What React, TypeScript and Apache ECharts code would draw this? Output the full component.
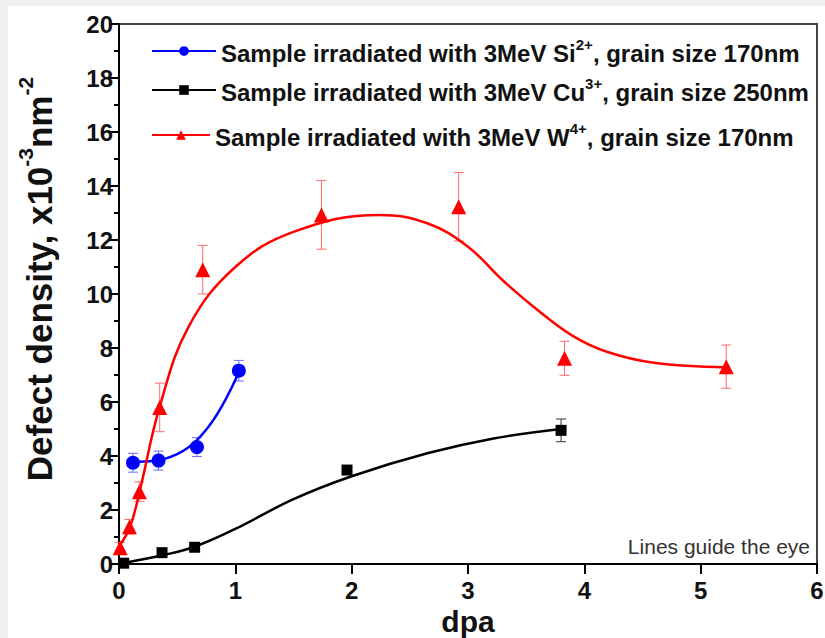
import React, { useEffect, useRef } from "react";
import * as echarts from "echarts";

const siName = "Sample irradiated with 3MeV Si2+, grain size 170nm";
const cuName = "Sample irradiated with 3MeV Cu3+, grain size 250nm";
const wName = "Sample irradiated with 3MeV W4+, grain size 170nm";

// measured points (dpa, density, error)
const siX = [0.12, 0.34, 0.67, 1.03];
const siY = [3.75, 3.83, 4.33, 7.16];
const siErr = [0.35, 0.35, 0.35, 0.38];

const cuX = [0.04, 0.37, 0.65, 1.96, 3.8];
const cuY = [0.03, 0.42, 0.62, 3.48, 4.95];
const cuErr = [0.05, 0.08, 0.08, 0.12, 0.42];

const wX = [0.01, 0.09, 0.175, 0.35, 0.72, 1.74, 2.92, 3.83, 5.22];
const wY = [0.6, 1.38, 2.68, 5.8, 10.9, 12.93, 13.23, 7.62, 7.31];
const wErr = [0.2, 0.27, 0.36, 0.9, 0.9, 1.27, 1.27, 0.63, 0.8];

// guide-the-eye curves
const siCurveX = [0.12, 0.3, 0.5, 0.67, 0.84, 1.02];
const siCurveY = [3.78, 3.82, 4.07, 4.59, 5.52, 7.0];

const cuCurveX = [0.02, 0.38, 0.65, 1.0, 1.5, 2.0, 2.65, 3.22, 3.8];
const cuCurveY = [0.02, 0.33, 0.64, 1.3, 2.4, 3.25, 4.1, 4.65, 5.0];

const wCurveX = [0.0, 0.095, 0.18, 0.35, 0.6, 1.0, 1.5, 2.24, 2.65, 3.0, 3.3, 3.6, 3.9, 4.2, 4.6, 5.22];
const wCurveY = [0.65, 1.38, 2.74, 5.83, 8.8, 11.0, 12.3, 12.93, 12.62, 11.75, 10.5, 9.4, 8.45, 7.85, 7.45, 7.28];

const xTicks = [0, 1, 2, 3, 4, 5, 6];
const yTicks = [0, 2, 4, 6, 8, 10, 12, 14, 16, 18, 20];

const BLUE = "#0000ff";
const RED = "#ff0000";
const BLACK = "#000000";
const FONT = "Liberation Sans";

const zip2 = (a: number[], b: number[]) => a.map((v, i) => [v, b[i]]);
const zip3 = (a: number[], b: number[], c: number[]) => a.map((v, i) => [v, b[i], c[i]]);

function errSeries(name: string, data: number[][], color: string) {
  return {
    type: "custom",
    name,
    data,
    encode: { x: 0, y: 1 },
    z: 1,
    renderItem: (_p: any, api: any) => {
      const x = api.value(0);
      const y = api.value(1);
      const e = api.value(2);
      const lo = api.coord([x, y - e]);
      const hi = api.coord([x, y + e]);
      const w = 5;
      const style = { stroke: color, lineWidth: 1 };
      return {
        type: "group",
        children: [
          { type: "line", shape: { x1: lo[0], y1: lo[1], x2: hi[0], y2: hi[1] }, style },
          { type: "line", shape: { x1: lo[0] - w, y1: lo[1], x2: lo[0] + w, y2: lo[1] }, style },
          { type: "line", shape: { x1: hi[0] - w, y1: hi[1], x2: hi[0] + w, y2: hi[1] }, style },
        ],
      };
    },
  };
}

const legendRich = {
  t: { fontFamily: FONT, fontWeight: "bold", fontSize: 24, color: "#111", lineHeight: 28, verticalAlign: "bottom" },
  s: { fontFamily: FONT, fontWeight: "bold", fontSize: 15, color: "#111", lineHeight: 28, verticalAlign: "top" },
};

const legendFmt = (name: string) => {
  const m = name.match(/^(.*3MeV [A-Za-z]+)(\d\+)(, .*)$/);
  if (!m) return name;
  return `{t|${m[1]}}{s|${m[2]}}{t|${m[3]}}`;
};

function mkLegend(name: string, top: number, itemWidth: number) {
  return {
    data: [name],
    left: 146,
    top,
    orient: "vertical",
    itemWidth,
    itemHeight: 12,
    itemGap: 4,
    formatter: legendFmt,
    textStyle: { rich: legendRich },
    selectedMode: false,
  };
}

export default function App() {
  const ref = useRef<HTMLDivElement>(null);
  useEffect(() => {
    document.body.style.margin = "0";
    const chart = echarts.init(ref.current!, undefined, { renderer: "svg" });
    const option: any = {
      animation: false,
      backgroundColor: "#efefef",
      graphic: [
        { type: "rect", left: 8, top: 6, z: -100, shape: { width: 817, height: 632 }, style: { fill: "#ffffff" }, silent: true },
        {
          type: "text",
          right: 15,
          top: 536,
          z: 100,
          style: { text: "Lines guide the eye", fontFamily: FONT, fontSize: 21, fill: "#333", textAlign: "right" },
        },
      ],
      grid: {
        left: 119, right: 8, top: 24, bottom: 74,
        outerBoundsMode: "none", containLabel: false,
        show: true, borderColor: "#444", borderWidth: 2, backgroundColor: "#fff",
      },
      legend: [mkLegend(siName, 32, 64), mkLegend(cuName, 71, 64), mkLegend(wName, 116, 58)],
      xAxis: {
        type: "value",
        min: xTicks[0],
        max: xTicks[xTicks.length - 1],
        interval: 1,
        name: "dpa",
        nameLocation: "middle",
        nameGap: 27,
        nameTextStyle: { fontFamily: FONT, fontWeight: "bold", fontSize: 30, lineHeight: 30, color: "#111" },
        axisLine: { lineStyle: { color: "#000", width: 2 } },
        axisTick: { length: 10, lineStyle: { color: "#000", width: 2 } },
        axisLabel: { fontFamily: FONT, fontWeight: "bold", fontSize: 24, color: "#111", margin: 14 },
        splitLine: { show: false },
      },
      yAxis: {
        type: "value",
        min: yTicks[0],
        max: yTicks[yTicks.length - 1],
        interval: 2,
        name: "{t|Defect density, x10}{s|-3}{t|nm}{s|-2}",
        nameLocation: "middle",
        nameGap: 62,
        nameTextStyle: {
          padding: [0, 0, 0, 30],
          rich: {
            t: { fontFamily: FONT, fontWeight: "bold", fontSize: 35, color: "#111", lineHeight: 42, verticalAlign: "bottom" },
            s: { fontFamily: FONT, fontWeight: "bold", fontSize: 21, color: "#111", lineHeight: 42, verticalAlign: "top" },
          },
        },
        axisLine: { lineStyle: { color: "#000", width: 2 } },
        axisTick: { length: 10, lineStyle: { color: "#000", width: 2 } },
        minorTick: { show: true, splitNumber: 2, length: 5, lineStyle: { color: "#000", width: 2 } },
        axisLabel: { fontFamily: FONT, fontWeight: "bold", fontSize: 24, color: "#111", margin: 6 },
        splitLine: { show: false },
      },
      series: [
        errSeries("Si err", zip3(siX, siY, siErr), "#6a6aff"),
        errSeries("Cu err", zip3(cuX, cuY, cuErr), "#333"),
        errSeries("W err", zip3(wX, wY, wErr), "#ff6a6a"),
        {
          type: "line", name: siName, data: zip2(siCurveX, siCurveY), smooth: 0.4,
          symbol: "circle", symbolSize: 12, showSymbol: false,
          lineStyle: { color: BLUE, width: 2.5 }, itemStyle: { color: BLUE }, z: 3,
        },
        {
          type: "line", name: cuName, data: zip2(cuCurveX, cuCurveY), smooth: 0.4,
          symbol: "rect", symbolSize: 10, showSymbol: false,
          lineStyle: { color: BLACK, width: 2.5 }, itemStyle: { color: BLACK }, z: 3,
        },
        {
          type: "line", name: wName, data: zip2(wCurveX, wCurveY), smooth: 0.4,
          symbol: "triangle", symbolSize: 13, showSymbol: false,
          lineStyle: { color: RED, width: 2.5 }, itemStyle: { color: RED }, z: 3,
        },
        { type: "scatter", name: "Si pts", data: zip2(siX, siY), symbol: "circle", symbolSize: 14, itemStyle: { color: BLUE, opacity: 1 }, z: 4 },
        { type: "scatter", name: "Cu pts", data: zip2(cuX, cuY), symbol: "rect", symbolSize: 11, itemStyle: { color: BLACK, opacity: 1 }, z: 4 },
        { type: "scatter", name: "W pts", data: zip2(wX, wY), symbol: "triangle", symbolSize: 15, itemStyle: { color: RED, opacity: 1 }, z: 4 },
      ],
    };
    chart.setOption(option);
    return () => chart.dispose();
  }, []);
  return <div ref={ref} style={{ width: 825, height: 638 }} />;
}
